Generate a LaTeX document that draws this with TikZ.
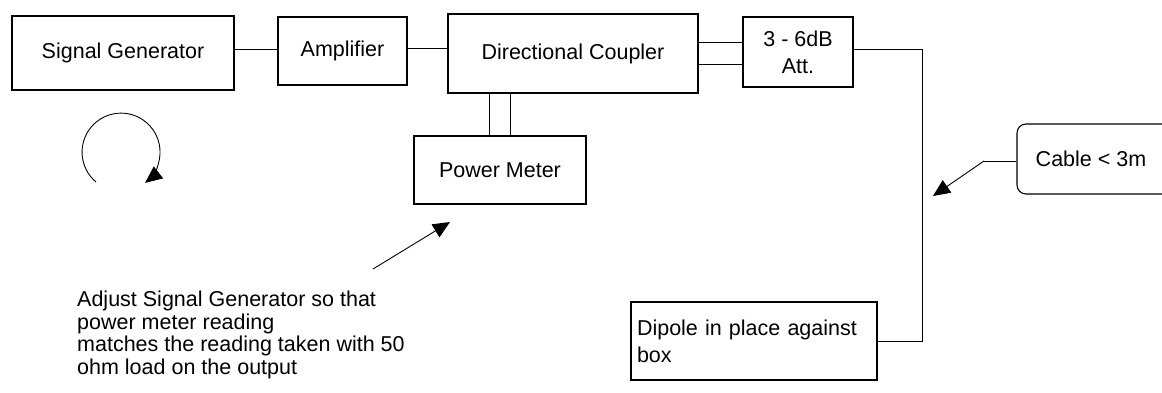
\documentclass[tikz,border=0pt]{standalone}
\usepackage{fontspec}
\setmainfont{Liberation Sans}
\usetikzlibrary{arrows.meta}
\begin{document}
\begin{tikzpicture}[x=1pt,y=-1pt,
  blk/.style={draw, line width=1.1pt, inner sep=0pt, align=center,
    font=\fontsize{21.5}{26}\selectfont},
  wire/.style={line width=1pt},
  ptr/.style={line width=0.9pt, -{Triangle[length=17pt,width=15pt]}},
  note/.style={inner sep=0pt, align=left, font=\fontsize{21.5}{22.5}\selectfont}]
\useasboundingbox[fill=white] (0,0) rectangle (1162,392);

% blocks
\node[blk, minimum width=222pt, minimum height=74pt] (sg) at (123,53) {Signal Generator};
\node[blk, minimum width=129pt, minimum height=68pt] (amp) at (342.5,51) {Amplifier};
\node[blk, minimum width=250pt, minimum height=79pt] (dc) at (573,53.5) {Directional Coupler};
\node[blk, minimum width=110pt, minimum height=70pt, font=\fontsize{21.5}{27}\selectfont] (att) at (798,52) {3 - 6dB\\Att.};
\node[blk, minimum width=172pt, minimum height=68pt] (pm) at (500,170) {Power Meter};
\node[blk, minimum width=246pt, minimum height=78pt, align=left, text width=234pt,
  font=\fontsize{21.5}{27}\selectfont] (dip) at (754,341) {Dipole in place against\\box};
\node[blk, rounded corners=9pt, minimum width=158pt, minimum height=70pt] (cab) at (1096,159) {\hspace*{-10pt}Cable < 3m};

% note text
\node[note, anchor=north west] (txt) at (77,291) {Adjust Signal Generator so that\\power meter reading\\matches the reading taken with 50\\ohm load on the output};

% helper coordinates
\coordinate (ya) at (0,49);
\coordinate (yb) at (0,48);
\coordinate (yc) at (0,42);
\coordinate (yd) at (0,64);
\coordinate (xa) at (489,0);
\coordinate (xb) at (510,0);
\coordinate (turn) at (922,49);
\coordinate (ckink) at (984,161);
\coordinate (ctip) at (933,196);
\coordinate (pstart) at (373,269);
\coordinate (ptip) at (450,222);

% connections
\draw[wire] (sg.east |- ya) -- (amp.west |- ya);
\draw[wire] (amp.east |- yb) -- (dc.west |- yb);
\draw[wire] (dc.east |- yc) -- (att.west |- yc);
\draw[wire] (dc.east |- yd) -- (att.west |- yd);
\draw[wire] (xa |- dc.south) -- (xa |- pm.north);
\draw[wire] (xb |- dc.south) -- (xb |- pm.north);
\draw[wire] (att.east |- ya) -- (turn) |- (dip.east);

% pointers
\draw[wire] (cab.west |- ckink) -- (ckink);
\draw[ptr] (ckink) -- (ctip);
\draw[ptr] (pstart) -- (ptip);

% rotation symbol
\draw[line width=0.9pt, -{Triangle[length=17pt,width=15pt]}] (96,182) arc[start angle=230, end angle=-52, radius=39pt];
\end{tikzpicture}
\end{document}
